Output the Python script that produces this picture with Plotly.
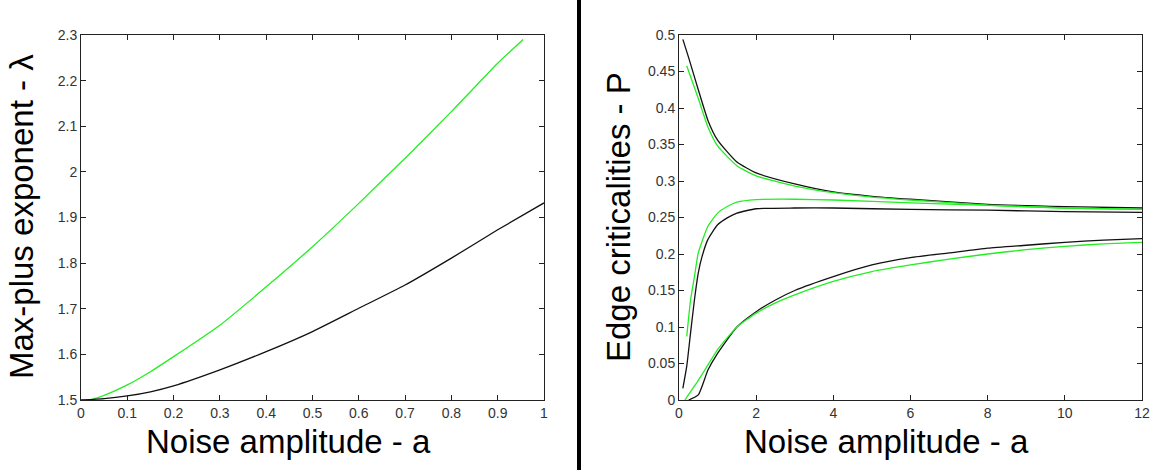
import plotly.graph_objects as go

# ---- Left panel: max-plus exponent ----
left_green_x = [0.02, 0.05, 0.1, 0.15, 0.2, 0.3, 0.4, 0.5, 0.6, 0.7, 0.8, 0.9, 0.955]
left_green_y = [1.500, 1.510, 1.533, 1.562, 1.595, 1.664, 1.748, 1.836, 1.931, 2.030, 2.132, 2.238, 2.290]
left_black_x = [0.0, 0.05, 0.1, 0.15, 0.2, 0.3, 0.4, 0.5, 0.6, 0.7, 0.8, 0.9, 1.0]
left_black_y = [1.500, 1.503, 1.509, 1.518, 1.531, 1.566, 1.606, 1.650, 1.701, 1.752, 1.811, 1.873, 1.932]

# ---- Right panel: edge criticalities ----
top_black_x = [0.1, 0.25, 0.5, 0.75, 1.0, 1.5, 2.0, 3.0, 4.0, 5.0, 6.0, 8.0, 10.0, 12.0]
top_black_y = [0.494, 0.469, 0.425, 0.383, 0.356, 0.326, 0.311, 0.296, 0.285, 0.279, 0.275, 0.268, 0.265, 0.263]
top_green_x = [0.2, 0.5, 0.75, 1.0, 1.5, 2.0, 3.0, 4.0, 5.0, 6.0, 8.0, 10.0, 12.0]
top_green_y = [0.458, 0.413, 0.374, 0.348, 0.321, 0.307, 0.293, 0.284, 0.278, 0.274, 0.267, 0.263, 0.261]
mid_green_x = [0.2, 0.3, 0.4, 0.5, 0.75, 1.0, 1.25, 1.5, 2.0, 3.0, 4.0, 6.0, 8.0, 10.0, 12.0]
mid_green_y = [0.087, 0.137, 0.169, 0.2015, 0.238, 0.256, 0.265, 0.271, 0.2745, 0.2750, 0.2740, 0.270, 0.2665, 0.263, 0.261]
mid_black_x = [0.1, 0.2, 0.3, 0.4, 0.5, 0.6, 0.75, 1.0, 1.25, 1.5, 2.0, 3.0, 4.0, 6.0, 8.0, 10.0, 12.0]
mid_black_y = [0.016, 0.046, 0.092, 0.137, 0.174, 0.197, 0.220, 0.240, 0.2495, 0.256, 0.262, 0.263, 0.263, 0.261, 0.260, 0.258, 0.257]
bot_black_x = [0.25, 0.5, 0.75, 1.0, 1.5, 2.0, 2.5, 3.0, 4.0, 5.0, 6.0, 7.0, 8.0, 9.0, 10.0, 11.0, 12.0]
bot_black_y = [0.0, 0.007, 0.041, 0.064, 0.100, 0.121, 0.137, 0.150, 0.169, 0.185, 0.195, 0.2015, 0.208, 0.212, 0.216, 0.219, 0.221]
bot_green_x = [0.15, 0.5, 0.75, 1.0, 1.5, 2.0, 2.5, 3.0, 4.0, 5.0, 6.0, 7.0, 8.0, 9.0, 10.0, 11.0, 12.0]
bot_green_y = [0.0, 0.027, 0.048, 0.069, 0.100, 0.119, 0.133, 0.144, 0.1625, 0.176, 0.185, 0.193, 0.200, 0.206, 0.2105, 0.214, 0.216]

left_xticks = [0, 0.1, 0.2, 0.3, 0.4, 0.5, 0.6, 0.7, 0.8, 0.9, 1]
left_xtext = ["0", "0.1", "0.2", "0.3", "0.4", "0.5", "0.6", "0.7", "0.8", "0.9", "1"]
left_yticks = [1.5, 1.6, 1.7, 1.8, 1.9, 2.0, 2.1, 2.2, 2.3]
left_ytext = ["1.5", "1.6", "1.7", "1.8", "1.9", "2", "2.1", "2.2", "2.3"]
right_xticks = [0, 2, 4, 6, 8, 10, 12]
right_xtext = ["0", "2", "4", "6", "8", "10", "12"]
right_yticks = [0, 0.05, 0.1, 0.15, 0.2, 0.25, 0.3, 0.35, 0.4, 0.45, 0.5]
right_ytext = ["0", "0.05", "0.1", "0.15", "0.2", "0.25", "0.3", "0.35", "0.4", "0.45", "0.5"]

GREEN = "#22ee22"
BLACK = "#111111"
W, H = 1151, 474

def px(p):
    return p / W

def py(p):
    return 1 - p / H

fig = go.Figure()

def add(x, y, color, xa, ya):
    fig.add_trace(go.Scatter(x=x, y=y, mode="lines", line=dict(color=color, width=1.3, shape="spline", smoothing=0.5),
                             xaxis=xa, yaxis=ya, showlegend=False, hoverinfo="skip", cliponaxis=True))

add(left_green_x, left_green_y, GREEN, "x", "y")
add(left_black_x, left_black_y, BLACK, "x", "y")
add(top_black_x, top_black_y, BLACK, "x2", "y2")
add(top_green_x, top_green_y, GREEN, "x2", "y2")
add(mid_black_x, mid_black_y, BLACK, "x2", "y2")
add(mid_green_x, mid_green_y, GREEN, "x2", "y2")
add(bot_black_x, bot_black_y, BLACK, "x2", "y2")
add(bot_green_x, bot_green_y, GREEN, "x2", "y2")

ydom = [py(400), py(35)]
tickfont = dict(family="Liberation Sans, Arial, sans-serif", size=14, color="#333333")
common = dict(showgrid=False, zeroline=False, showline=True, linecolor="#222222", linewidth=1,
              mirror="ticks", ticks="inside", ticklen=5, tickcolor="#222222", tickfont=tickfont,
              automargin=False)

fig.update_layout(
    width=W, height=H,
    margin=dict(l=0, r=0, t=0, b=0, autoexpand=False),
    paper_bgcolor="white", plot_bgcolor="white",
    xaxis=dict(domain=[px(81), px(544)], range=[0, 1], tickvals=left_xticks, ticktext=left_xtext, anchor="y", **common),
    yaxis=dict(domain=ydom, range=[1.5, 2.3], tickvals=left_yticks, ticktext=left_ytext, anchor="x", **common),
    xaxis2=dict(domain=[px(679), px(1142)], range=[0, 12], tickvals=right_xticks, ticktext=right_xtext, anchor="y2", **common),
    yaxis2=dict(domain=ydom, range=[0, 0.5], tickvals=right_yticks, ticktext=right_ytext, anchor="x2", **common),
    shapes=[dict(type="line", xref="paper", yref="paper", x0=px(579), x1=px(579), y0=py(470), y1=1,
                 line=dict(color="black", width=4))],
)

titlefont = dict(family="Liberation Sans, Arial, sans-serif", size=33, color="black")
fig.add_annotation(text="Max-plus exponent - λ", xref="paper", yref="paper", x=px(21), y=py(217),
                   textangle=-90, showarrow=False, font=titlefont, xanchor="center", yanchor="middle", borderpad=0)
fig.add_annotation(text="Edge criticalities - P", xref="paper", yref="paper", x=px(618), y=py(217),
                   textangle=-90, showarrow=False, font=titlefont, xanchor="center", yanchor="middle", borderpad=0)
fig.add_annotation(text="Noise amplitude - a", xref="paper", yref="paper", x=px(288), y=py(441),
                   showarrow=False, font=titlefont, xanchor="center", yanchor="middle", borderpad=0)
fig.add_annotation(text="Noise amplitude - a", xref="paper", yref="paper", x=px(886), y=py(441),
                   showarrow=False, font=titlefont, xanchor="center", yanchor="middle", borderpad=0)

fig.write_html("out.html", config={"displayModeBar": False},
               post_script="document.body.style.margin='0px';document.body.style.padding='0px';")
